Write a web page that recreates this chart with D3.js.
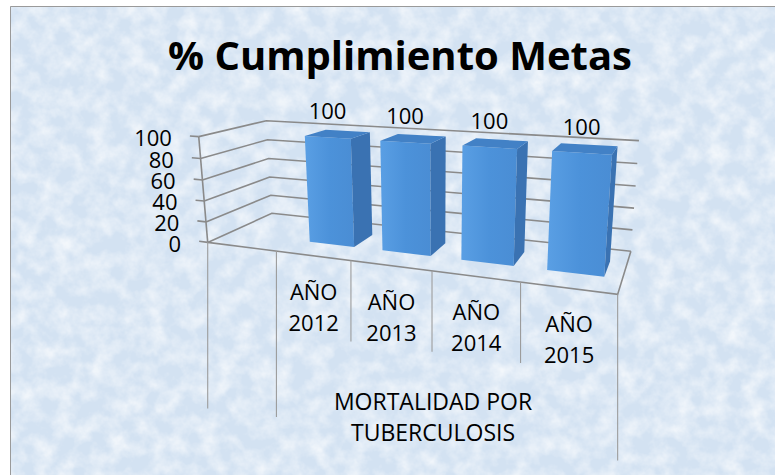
<!DOCTYPE html>
<html>
<head>
<meta charset="utf-8">
<script src="https://cdn.jsdelivr.net/npm/d3@7"></script>
<style>
  html, body { margin: 0; padding: 0; background: #ffffff; }
  svg { display: block; }
</style>
</head>
<body>
<div id="chart"></div>
<script>
// Chart data
const title = "% Cumplimiento Metas";
const categories = ["", "AÑO 2012", "AÑO 2013", "AÑO 2014", "AÑO 2015"];
const values = [null, 100, 100, 100, 100];
const groupNames = ["", "MORTALIDAD POR TUBERCULOSIS"];
const groupOfCategory = [0, 1, 1, 1, 1];
const yTicks = [0, 20, 40, 60, 80, 100];

const width = 775, height = 475;
const font = "'Open Sans', 'Liberation Sans', sans-serif";

// Box corners as seen on screen: u across, v up, w into the page -> x, y
const calib = [
    [0, 0, 0, 208, 242], [0, 1, 0, 199, 136],
    [0, 0, 1, 272, 213], [0, 1, 1, 266, 121],
    [1, 0, 0, 618, 293], [1, 0, 1, 631, 251], [1, 1, 1, 639, 141],
    [0.2, 0, 0, 276, 252], [0.4, 0, 0, 351, 261],
    [0.6, 0, 0, 432, 271], [0.8, 0, 0, 520, 283]
];

// Least squares fit of a perspective camera (3x4 matrix, last term = 1)
function fitCamera(pts) {
    const cx = 400, cy = 200, s = 300, N = 11;
    const M = Array.from({ length: N }, () => new Array(N + 1).fill(0));
    const addRow = (r, b) => {
        for (let i = 0; i < N; i++) {
            for (let j = 0; j < N; j++) M[i][j] += r[i] * r[j];
            M[i][N] += r[i] * b;
        }
    };
    pts.forEach(([u, v, w, X, Y]) => {
        const x = (X - cx) / s, y = (Y - cy) / s;
        addRow([u, v, w, 1, 0, 0, 0, 0, -x * u, -x * v, -x * w], x);
        addRow([0, 0, 0, 0, u, v, w, 1, -y * u, -y * v, -y * w], y);
    });
    for (let c = 0; c < N; c++) {
        let piv = c;
        for (let r = c + 1; r < N; r++) if (Math.abs(M[r][c]) > Math.abs(M[piv][c])) piv = r;
        [M[c], M[piv]] = [M[piv], M[c]];
        for (let r = 0; r < N; r++) {
            if (r === c) continue;
            const f = M[r][c] / M[c][c];
            for (let k = c; k <= N; k++) M[r][k] -= f * M[c][k];
        }
    }
    const p = M.map((row, i) => row[N] / row[i]);
    return (u, v, w) => {
        const d = p[8] * u + p[9] * v + p[10] * w + 1;
        return [cx + s * (p[0] * u + p[1] * v + p[2] * w + p[3]) / d,
                cy + s * (p[4] * u + p[5] * v + p[6] * w + p[7]) / d];
    };
}
const proj = fitCamera(calib);

// Scales into the unit box
const n = categories.length;
const x = d3.scaleBand().domain(d3.range(n)).range([0, 1])
    .paddingInner(0.38).paddingOuter(0.19);
const y = d3.scaleLinear().domain([0, 100]).range([0, 1]);
const depth = [0.32, 0.68];

const svg = d3.select("#chart").append("svg")
    .attr("width", width)
    .attr("height", height);

// Background with a soft marbled texture
const defs = svg.append("defs");
const tex = defs.append("filter").attr("id", "tex")
    .attr("x", 0).attr("y", 0).attr("width", "100%").attr("height", "100%");
tex.append("feTurbulence").attr("type", "fractalNoise")
    .attr("baseFrequency", "0.055").attr("numOctaves", 4).attr("seed", 7);
tex.append("feColorMatrix").attr("type", "matrix")
    .attr("values", "0 0 0 0 1  0 0 0 0 1  0 0 0 0 1  1.3 0 0 0 -0.45");

const grad = defs.append("linearGradient").attr("id", "front")
    .attr("x1", 0).attr("x2", 1).attr("y1", 0).attr("y2", 0);
grad.append("stop").attr("offset", 0).attr("stop-color", "#5a9fe4");
grad.append("stop").attr("offset", 0.5).attr("stop-color", "#4c92da");
grad.append("stop").attr("offset", 1).attr("stop-color", "#4a8dd4");

svg.append("rect").attr("x", 10).attr("y", 6)
    .attr("width", width - 10).attr("height", height - 6)
    .attr("fill", "#d3e2f2");
svg.append("rect").attr("x", 10).attr("y", 6)
    .attr("width", width - 10).attr("height", height - 6)
    .attr("filter", "url(#tex)");
svg.append("path")
    .attr("d", `M10.5,${height}V6.5H${width}`)
    .attr("fill", "none").attr("stroke", "#9a9a9a").attr("stroke-width", 1);

// Title
svg.append("text")
    .attr("x", 400).attr("y", 70)
    .attr("text-anchor", "middle")
    .style("font-family", font).style("font-size", "40px").style("font-weight", "bold")
    .style("fill", "#000")
    .text(title);

const line = d3.line();
const grid = svg.append("g").attr("fill", "none").attr("stroke", "#8a8a8a").attr("stroke-width", 1.6);

// Gridlines on the left wall and back wall
grid.selectAll("path.level")
    .data(yTicks)
    .join("path")
    .attr("class", "level")
    .attr("d", t => line([proj(0, y(t), 0), proj(0, y(t), 1), proj(1, y(t), 1)]));

// Floor outline and the front edge of the value axis
grid.append("path").attr("d", line([proj(0, 0, 0), proj(1, 0, 0), proj(1, 0, 1)]));
grid.append("path").attr("d", line([proj(0, 0, 0), proj(0, 1, 0)]));
grid.selectAll("path.tick")
    .data(yTicks)
    .join("path")
    .attr("class", "tick")
    .attr("d", t => line([proj(-0.026, y(t), 0), proj(0, y(t), 0)]));

// Value axis labels
svg.append("g").selectAll("text")
    .data(yTicks)
    .join("text")
    .attr("x", t => proj(-0.026, y(t), 0)[0] - 18)
    .attr("y", t => proj(0, y(t), 0)[1] + 9.4)
    .attr("text-anchor", "end")
    .style("font-family", font).style("font-size", "22px").style("fill", "#000")
    .text(t => t);

// Bars
const bars = d3.range(n).filter(i => values[i] != null);
const barG = svg.append("g").selectAll("g")
    .data(bars)
    .join("g");

const face = pts => line(pts) + "Z";
barG.append("path") // front
    .attr("d", i => {
        const u0 = x(i), u1 = x(i) + x.bandwidth(), v = y(values[i]), w = depth[0];
        return face([proj(u0, 0, w), proj(u1, 0, w), proj(u1, v, w), proj(u0, v, w)]);
    })
    .attr("fill", "url(#front)");
barG.append("path") // side
    .attr("d", i => {
        const u1 = x(i) + x.bandwidth(), v = y(values[i]);
        return face([proj(u1, 0, depth[0]), proj(u1, 0, depth[1]), proj(u1, v, depth[1]), proj(u1, v, depth[0])]);
    })
    .attr("fill", "#3a72b2");
barG.append("path") // top
    .attr("d", i => {
        const u0 = x(i), u1 = x(i) + x.bandwidth(), v = y(values[i]);
        return face([proj(u0, v, depth[0]), proj(u1, v, depth[0]), proj(u1, v, depth[1]), proj(u0, v, depth[1])]);
    })
    .attr("fill", "#4281c6");

// Data labels
svg.append("g").selectAll("text")
    .data(bars)
    .join("text")
    .attr("x", i => proj(x(i) + x.bandwidth() / 2, y(values[i]), depth[0])[0])
    .attr("y", i => proj(x(i) + x.bandwidth() / 2, y(values[i]), depth[0])[1] - 18)
    .attr("text-anchor", "middle")
    .style("font-family", font).style("font-size", "22px").style("fill", "#000")
    .text(i => values[i]);

// Category axis: separators, year labels, group labels
const edge = k => proj(k / n, 0, 0);
const isGroupEdge = k => k === 0 || k === n || groupOfCategory[k] !== groupOfCategory[k - 1];
svg.append("g").attr("stroke", "#9c9c9c").attr("stroke-width", 1.1)
    .selectAll("line")
    .data(d3.range(n + 1))
    .join("line")
    .attr("x1", k => edge(k)[0]).attr("x2", k => edge(k)[0])
    .attr("y1", k => edge(k)[1])
    .attr("y2", k => edge(k)[1] + (isGroupEdge(k) ? 166 : 81));

function wrapped(sel, lines, x0, y0, lineHeight) {
    sel.selectAll("tspan")
        .data(lines)
        .join("tspan")
        .attr("x", x0)
        .attr("y", (d, j) => y0 + j * lineHeight)
        .text(d => d);
}

svg.append("g").selectAll("text")
    .data(d3.range(n).filter(i => categories[i] !== ""))
    .join("text")
    .attr("text-anchor", "middle")
    .style("font-family", font).style("font-size", "22px").style("fill", "#000")
    .each(function(i) {
        const a = edge(i), b = edge(i + 1);
        wrapped(d3.select(this), categories[i].split(" "), (a[0] + b[0]) / 2, (a[1] + b[1]) / 2 + 44, 31);
    });

svg.append("g").selectAll("text")
    .data(d3.range(groupNames.length).filter(g => groupNames[g] !== ""))
    .join("text")
    .attr("text-anchor", "middle")
    .style("font-family", font).style("font-size", "23px").style("fill", "#000")
    .each(function(g) {
        const first = groupOfCategory.indexOf(g);
        const last = groupOfCategory.lastIndexOf(g) + 1;
        const a = edge(first), b = edge(last);
        const words = groupNames[g].split(" ");
        const lines = [words.slice(0, -1).join(" "), words[words.length - 1]];
        wrapped(d3.select(this), lines, (a[0] + b[0]) / 2 - 14, (a[1] + b[1]) / 2 + 137, 31);
    });
</script>
</body>
</html>
